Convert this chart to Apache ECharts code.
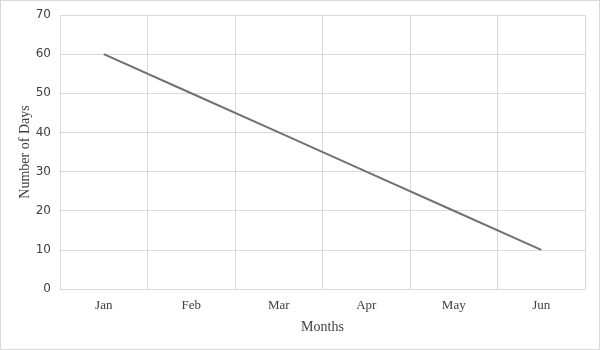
<!DOCTYPE html>
<html><head><meta charset="utf-8">
<script src="https://cdn.jsdelivr.net/npm/echarts@6/dist/echarts.min.js"></script>
<style>html,body{margin:0;padding:0;background:#fff}#c{width:600px;height:350px;box-sizing:border-box;border:1px solid #d9d9d9}</style>
</head><body><div id="c"></div>
<script>
const categories = ['Jan','Feb','Mar','Apr','May','Jun'];
const days = [60,50,40,30,20,10];
const chart = echarts.init(document.getElementById('c'), null, {renderer:'canvas'});
chart.setOption({
  animation:false,
  grid:{left:59,right:14,top:14,bottom:60,containLabel:false},
  xAxis:{type:'category',data:categories,boundaryGap:true,
    name:'Months',nameLocation:'middle',nameGap:31,nameMoveOverlap:false,
    nameTextStyle:{fontFamily:'Liberation Serif',fontSize:14,color:'#404040'},
    axisLine:{lineStyle:{color:'#d9d9d9',width:1}},
    axisTick:{show:false},
    axisLabel:{fontFamily:'Liberation Serif',fontSize:13,color:'#404040',margin:10},
    splitLine:{show:true,lineStyle:{color:'#d9d9d9'}}},
  yAxis:{type:'value',min:0,max:70,interval:10,
    name:'Number of Days',nameLocation:'middle',nameGap:28,nameMoveOverlap:false,
    nameTextStyle:{fontFamily:'Liberation Serif',fontSize:14,color:'#404040'},
    axisLine:{show:false},axisTick:{show:false},
    axisLabel:{fontFamily:'DejaVu Sans',fontSize:12,color:'#404040',margin:9},
    splitLine:{lineStyle:{color:'#d9d9d9'}}},
  series:[{type:'line',data:days,symbol:'none',lineStyle:{color:'#717171',width:2}}]
});
</script></body></html>
